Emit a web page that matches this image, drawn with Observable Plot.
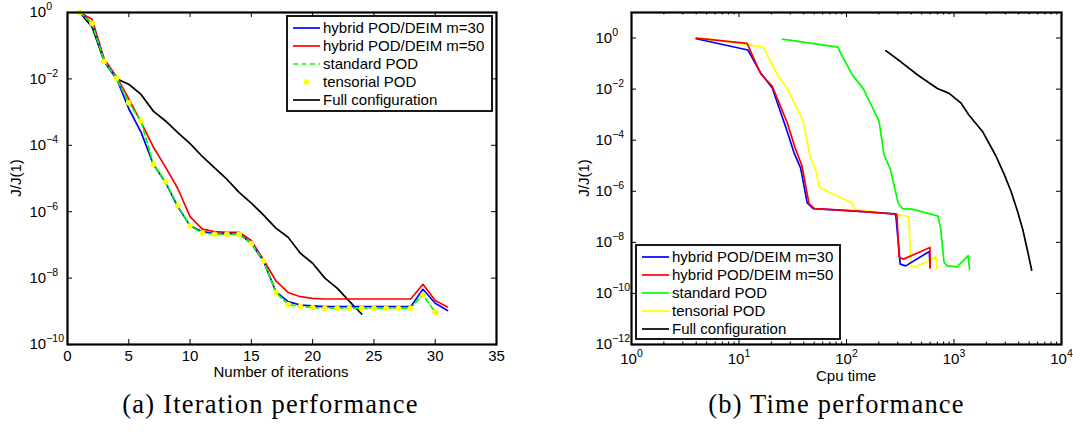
<!DOCTYPE html>
<html>
<head>
<meta charset="utf-8">
<script src="https://cdn.jsdelivr.net/npm/d3@7"></script>
<script src="https://cdn.jsdelivr.net/npm/@observablehq/plot@0.6"></script>
<style>
  html, body { margin: 0; padding: 0; background: #fff; }
  #wrap { position: relative; width: 1073px; height: 437px; overflow: hidden; background: #fff; }
  #wrap > svg { position: absolute; top: 0; }
</style>
</head>
<body>
<div id="wrap"></div>
<script>
// ---------------- data: (a) iteration performance ----------------
const iterations = [1,2,3,4,5,6,7,8,9,10,11,12,13,14,15,16,17,18,19,20,21,22,23,24,25,26,27,28,29,30,31];
const hybrid30Iter = [1, 0.47, 3.4e-2, 1.05e-2, 1.26e-3, 2.5e-4, 2.7e-5, 7.6e-6, 1.4e-6, 3.8e-7,
  2.5e-7, 2.2e-7, 2.2e-7, 2.2e-7, 1.1e-7, 3.2e-8, 3.9e-9, 1.95e-9, 1.55e-9, 1.45e-9,
  1.38e-9, 1.38e-9, 1.38e-9, 1.38e-9, 1.38e-9, 1.38e-9, 1.38e-9, 1.38e-9, 4.6e-9, 1.74e-9, 1.05e-9];
const hybrid50Iter = [1, 0.63, 4.0e-2, 1.17e-2, 2.5e-3, 5.0e-4, 8.9e-5, 2.2e-5, 5.0e-6, 7.1e-7,
  3.0e-7, 2.5e-7, 2.4e-7, 2.4e-7, 1.35e-7, 3.5e-8, 8.3e-9, 3.7e-9, 2.75e-9, 2.45e-9,
  2.35e-9, 2.35e-9, 2.35e-9, 2.35e-9, 2.35e-9, 2.35e-9, 2.35e-9, 2.35e-9, 6.5e-9, 2.1e-9, 1.35e-9];
const standardIter = [1, 0.47, 3.4e-2, 1.05e-2, 1.9e-3, 5.4e-4, 2.7e-5, 7.9e-6, 1.5e-6, 3.7e-7,
  2.3e-7, 2.1e-7, 2.1e-7, 2.1e-7, 1.1e-7, 3.3e-8, 3.7e-9, 1.6e-9, 1.4e-9, 1.3e-9,
  1.25e-9, 1.25e-9, 1.25e-9, 1.25e-9, 1.25e-9, 1.25e-9, 1.25e-9, 1.25e-9, 3.2e-9, 9.3e-10];
const tensorialIter = [1, 0.47, 3.4e-2, 1.05e-2, 1.9e-3, 5.4e-4, 2.7e-5, 7.9e-6, 1.5e-6, 3.7e-7,
  2.3e-7, 2.1e-7, 2.1e-7, 2.1e-7, 1.1e-7, 3.3e-8, 3.7e-9, 1.6e-9, 1.4e-9, 1.3e-9,
  1.23e-9, 1.23e-9, 1.23e-9, 1.23e-9, 1.23e-9, 1.23e-9, 1.23e-9, 1.23e-9, 3.1e-9, 9.3e-10];
const fullIter = [1, 0.37, 3.3e-2, 1.0e-2, 6.9e-3, 3.4e-3, 1.07e-3, 5.4e-4, 2.4e-4, 1.12e-4,
  4.6e-5, 2.1e-5, 9.5e-6, 3.8e-6, 1.8e-6, 7.9e-7, 3.2e-7, 1.7e-7, 5.6e-8, 2.8e-8,
  1.0e-8, 5.0e-9, 2.0e-9, 8.3e-10];

// ---------------- data: (b) time performance ----------------
const hybrid30Time = [4.0, 12.1, 15.9, 20.4, 28.1, 32.5, 37.4, 43.1, 49, 109, 287, 316, 355, 589, 600];
const hybrid30Val  = [0.94, 0.34, 4.3e-2, 1.1e-2, 2.2e-4, 3.2e-5, 8.3e-6, 3.5e-7, 2.1e-7, 1.7e-7, 1.3e-7, 1.4e-9, 1.2e-9, 4.4e-9, 1.05e-9];
const hybrid50Time = [4.0, 11.9, 15.9, 20.4, 28.1, 33, 38.5, 44.8, 50.5, 109, 294, 309, 339, 597, 600];
const hybrid50Val  = [1.0, 0.62, 4.0e-2, 1.3e-2, 4.8e-4, 5.5e-5, 1.0e-5, 3.3e-7, 2.1e-7, 1.75e-7, 1.26e-7, 2.6e-9, 2.2e-9, 6.3e-9, 1.0e-9];
const standardTime = [25.3, 83.4, 88, 113, 144, 201, 223, 256, 303, 331, 409, 711, 753, 809, 870, 1069, 1355, 1395];
const standardVal  = [0.91, 0.44, 0.26, 3.7e-2, 1.0e-2, 5.5e-4, 2.75e-5, 7.2e-6, 3.3e-7, 2.1e-7, 2.0e-7, 1.07e-7, 3.2e-8, 1.6e-9, 1.2e-9, 1.1e-9, 3.0e-9, 8.9e-10];
const tensorialTime = [5.0, 16.8, 22.7, 28.5, 39.6, 45.7, 51.6, 56, 113, 117, 369, 381, 397, 442, 678, 690];
const tensorialVal  = [0.95, 0.44, 3.7e-2, 9.5e-3, 5.5e-4, 2.4e-5, 7.2e-6, 1.4e-6, 3.5e-7, 2.0e-7, 1.07e-7, 7.9e-8, 1.2e-9, 1.1e-9, 2.7e-9, 8.9e-10];
const fullTime = [232, 318, 463, 701, 901, 1156, 1381, 1841, 2455, 2931, 3390, 3890, 4363, 4830, 5280];
const fullVal  = [0.32, 0.12, 3.5e-2, 1.05e-2, 6.8e-3, 2.9e-3, 9.5e-4, 2.2e-4, 2.4e-5, 4.6e-6, 1.0e-6, 1.7e-7, 3.2e-8, 4.7e-9, 8.1e-10];

// ---------------- ticks & labels ----------------
const xTicksIter = [0, 5, 10, 15, 20, 25, 30, 35];
const yTicksIter = [1e-10, 1e-8, 1e-6, 1e-4, 1e-2, 1];
const xTicksTime = [1, 10, 100, 1000, 10000];
const xMinorTime = [2,3,4,5,6,7,8,9, 20,30,40,50,60,70,80,90, 200,300,400,500,600,700,800,900, 2000,3000,4000,5000,6000,7000,8000,9000];
const yTicksTime = [1e-12, 1e-10, 1e-8, 1e-6, 1e-4, 1e-2, 1];

const seriesNames = ["hybrid POD/DEIM m=30", "hybrid POD/DEIM m=50", "standard POD", "tensorial POD", "Full configuration"];
const seriesColors = ["#0000ff", "#ff0000", "#00ff00", "#ffff00", "#000000"];
const xLabelIter = "Number of iterations";
const xLabelTime = "Cpu time";
const yLabel = "J/J(1)";
const captionA = "(a) Iteration performance";
const captionB = "(b) Time performance";

// ---------------- helpers ----------------
const FONT = '"Liberation Sans", Arial, Helvetica, sans-serif';
const SVGNS = "http://www.w3.org/2000/svg";
const pairs = (xs, ys) => ys.map((y, i) => ({x: xs[i], y}));
const pow10 = d => "10^" + (Math.round(Math.log10(d)) < 0 ? "\u2212" + Math.abs(Math.round(Math.log10(d))) : Math.round(Math.log10(d)));

function superscripts(svg) {
  svg.querySelectorAll("text").forEach(t => {
    const m = /^10\^(.+)$/.exec(t.textContent);
    if (!m) return;
    t.textContent = "";
    const a = document.createElementNS(SVGNS, "tspan");
    a.textContent = "10";
    const b = document.createElementNS(SVGNS, "tspan");
    b.setAttribute("dy", "-7");
    b.setAttribute("font-size", "10.5px");
    b.textContent = m[1];
    t.append(a, b);
  });
}

const wrap = document.getElementById("wrap");
const LW = 2.2, CW = 1.7, TK = 5, TKm = 2.5;

// ---------------- (a) ----------------
const A = {w: 536, h: 380, ml: 67, mr: 40, mt: 12, mb: 36};
const fwA = A.w - A.ml - A.mr, fhA = A.h - A.mt - A.mb;
const plotA = Plot.plot({
  width: A.w, height: A.h,
  marginLeft: A.ml, marginRight: A.mr, marginTop: A.mt, marginBottom: A.mb,
  style: {fontFamily: FONT, fontSize: "15px", color: "black", background: "transparent", overflow: "visible"},
  x: {type: "linear", domain: [0, 35]},
  y: {type: "log", domain: [1e-10, 1]},
  marks: [
    Plot.line(pairs(iterations, fullIter), {x: "x", y: "y", stroke: seriesColors[4], strokeWidth: CW}),
    Plot.line(pairs(iterations, hybrid50Iter), {x: "x", y: "y", stroke: seriesColors[1], strokeWidth: CW}),
    Plot.line(pairs(iterations, hybrid30Iter), {x: "x", y: "y", stroke: seriesColors[0], strokeWidth: CW}),
    Plot.line(pairs(iterations, standardIter), {x: "x", y: "y", stroke: seriesColors[2], strokeWidth: CW, strokeDasharray: "5,3"}),
    Plot.dot(pairs(iterations, tensorialIter), {x: "x", y: "y", r: 2.8, fill: seriesColors[3], stroke: "none"}),
    Plot.frame({stroke: "black", strokeWidth: LW}),
    Plot.tickX(xTicksIter, {x: d => d, insetBottom: fhA - TK, stroke: "black"}),
    Plot.tickX(xTicksIter, {x: d => d, insetTop: fhA - TK, stroke: "black"}),
    Plot.tickY(yTicksIter, {y: d => d, insetRight: fwA - TK, stroke: "black"}),
    Plot.tickY(yTicksIter, {y: d => d, insetLeft: fwA - TK, stroke: "black"}),
    Plot.axisX({ticks: xTicksIter, tickSize: 0, tickPadding: 6, tickFormat: d => String(d), label: null}),
    Plot.axisY({ticks: yTicksIter, tickSize: 0, tickPadding: 0, textAnchor: "start", dx: -38, tickFormat: pow10, label: null})
  ]
});
plotA.style.left = "0px";
superscripts(plotA);
wrap.appendChild(plotA);

// ---------------- (b) ----------------
const B = {left: 536, w: 537, h: 380, ml: 95, mr: 12, mt: 12, mb: 36};
const fwB = B.w - B.ml - B.mr, fhB = B.h - B.mt - B.mb;
const plotB = Plot.plot({
  width: B.w, height: B.h,
  marginLeft: B.ml, marginRight: B.mr, marginTop: B.mt, marginBottom: B.mb,
  style: {fontFamily: FONT, fontSize: "15px", color: "black", background: "transparent", overflow: "visible"},
  x: {type: "log", domain: [1, 1e4]},
  y: {type: "log", domain: [1e-12, 10]},
  marks: [
    Plot.line(pairs(fullTime, fullVal), {x: "x", y: "y", stroke: seriesColors[4], strokeWidth: CW}),
    Plot.line(pairs(standardTime, standardVal), {x: "x", y: "y", stroke: seriesColors[2], strokeWidth: CW}),
    Plot.line(pairs(tensorialTime, tensorialVal), {x: "x", y: "y", stroke: seriesColors[3], strokeWidth: CW}),
    Plot.line(pairs(hybrid30Time, hybrid30Val), {x: "x", y: "y", stroke: seriesColors[0], strokeWidth: CW}),
    Plot.line(pairs(hybrid50Time, hybrid50Val), {x: "x", y: "y", stroke: seriesColors[1], strokeWidth: CW}),
    Plot.frame({stroke: "black", strokeWidth: LW}),
    Plot.tickX(xTicksTime, {x: d => d, insetBottom: fhB - TK, stroke: "black"}),
    Plot.tickX(xTicksTime, {x: d => d, insetTop: fhB - TK, stroke: "black"}),
    Plot.tickX(xMinorTime, {x: d => d, insetBottom: fhB - TKm, stroke: "black"}),
    Plot.tickX(xMinorTime, {x: d => d, insetTop: fhB - TKm, stroke: "black"}),
    Plot.tickY(yTicksTime, {y: d => d, insetRight: fwB - TK, stroke: "black"}),
    Plot.tickY(yTicksTime, {y: d => d, insetLeft: fwB - TK, stroke: "black"}),
    Plot.axisX({ticks: xTicksTime, tickSize: 0, tickPadding: 9, tickFormat: pow10, label: null}),
    Plot.axisY({ticks: yTicksTime, tickSize: 0, tickPadding: 0, textAnchor: "start", dx: -36, tickFormat: pow10, label: null})
  ]
});
plotB.style.left = B.left + "px";
superscripts(plotB);
wrap.appendChild(plotB);

// ---------------- overlay: axis titles, legends, captions ----------------
const ov = d3.select(wrap).append("svg")
  .attr("width", 1073).attr("height", 437)
  .style("left", "0px").style("pointer-events", "none")
  .attr("font-family", FONT).attr("font-size", 15);

ov.append("text").attr("transform", "translate(21,178) rotate(-90)").attr("text-anchor", "middle").text(yLabel);
ov.append("text").attr("transform", "translate(589,178) rotate(-90)").attr("text-anchor", "middle").text(yLabel);
ov.append("text").attr("x", 281).attr("y", 377).attr("text-anchor", "middle").text(xLabelIter);
ov.append("text").attr("x", 846).attr("y", 381).attr("text-anchor", "middle").text(xLabelTime);

function legend(x0, y0, w, h, styles) {
  const g = ov.append("g");
  g.append("rect").attr("x", x0).attr("y", y0).attr("width", w).attr("height", h)
    .attr("fill", "white").attr("stroke", "black").attr("stroke-width", 1.8);
  seriesNames.forEach((name, i) => {
    const yy = y0 + 12 + i * 18;
    const s = styles[i];
    if (s === "dot") {
      g.append("circle").attr("cx", x0 + 19.5).attr("cy", yy).attr("r", 2.8).attr("fill", seriesColors[i]);
    } else {
      g.append("line").attr("x1", x0 + 6).attr("x2", x0 + 33).attr("y1", yy).attr("y2", yy)
        .attr("stroke", seriesColors[i]).attr("stroke-width", CW)
        .attr("stroke-dasharray", s === "dash" ? "5,3.5" : null);
    }
    g.append("text").attr("x", x0 + 36).attr("y", yy + 5.3).text(name);
  });
}
legend(287, 16, 205, 95, ["line", "line", "dash", "dot", "line"]);
legend(636, 245, 204, 94, ["line", "line", "line", "line", "line"]);

const cap = ov.append("g").attr("font-family", '"Liberation Serif", "Times New Roman", serif')
  .attr("font-size", 26.5).attr("letter-spacing", "1.2px").attr("text-anchor", "middle");
cap.append("text").attr("x", 270.5).attr("y", 413).text(captionA);
cap.append("text").attr("x", 836.5).attr("y", 413).text(captionB);
</script>
</body>
</html>
